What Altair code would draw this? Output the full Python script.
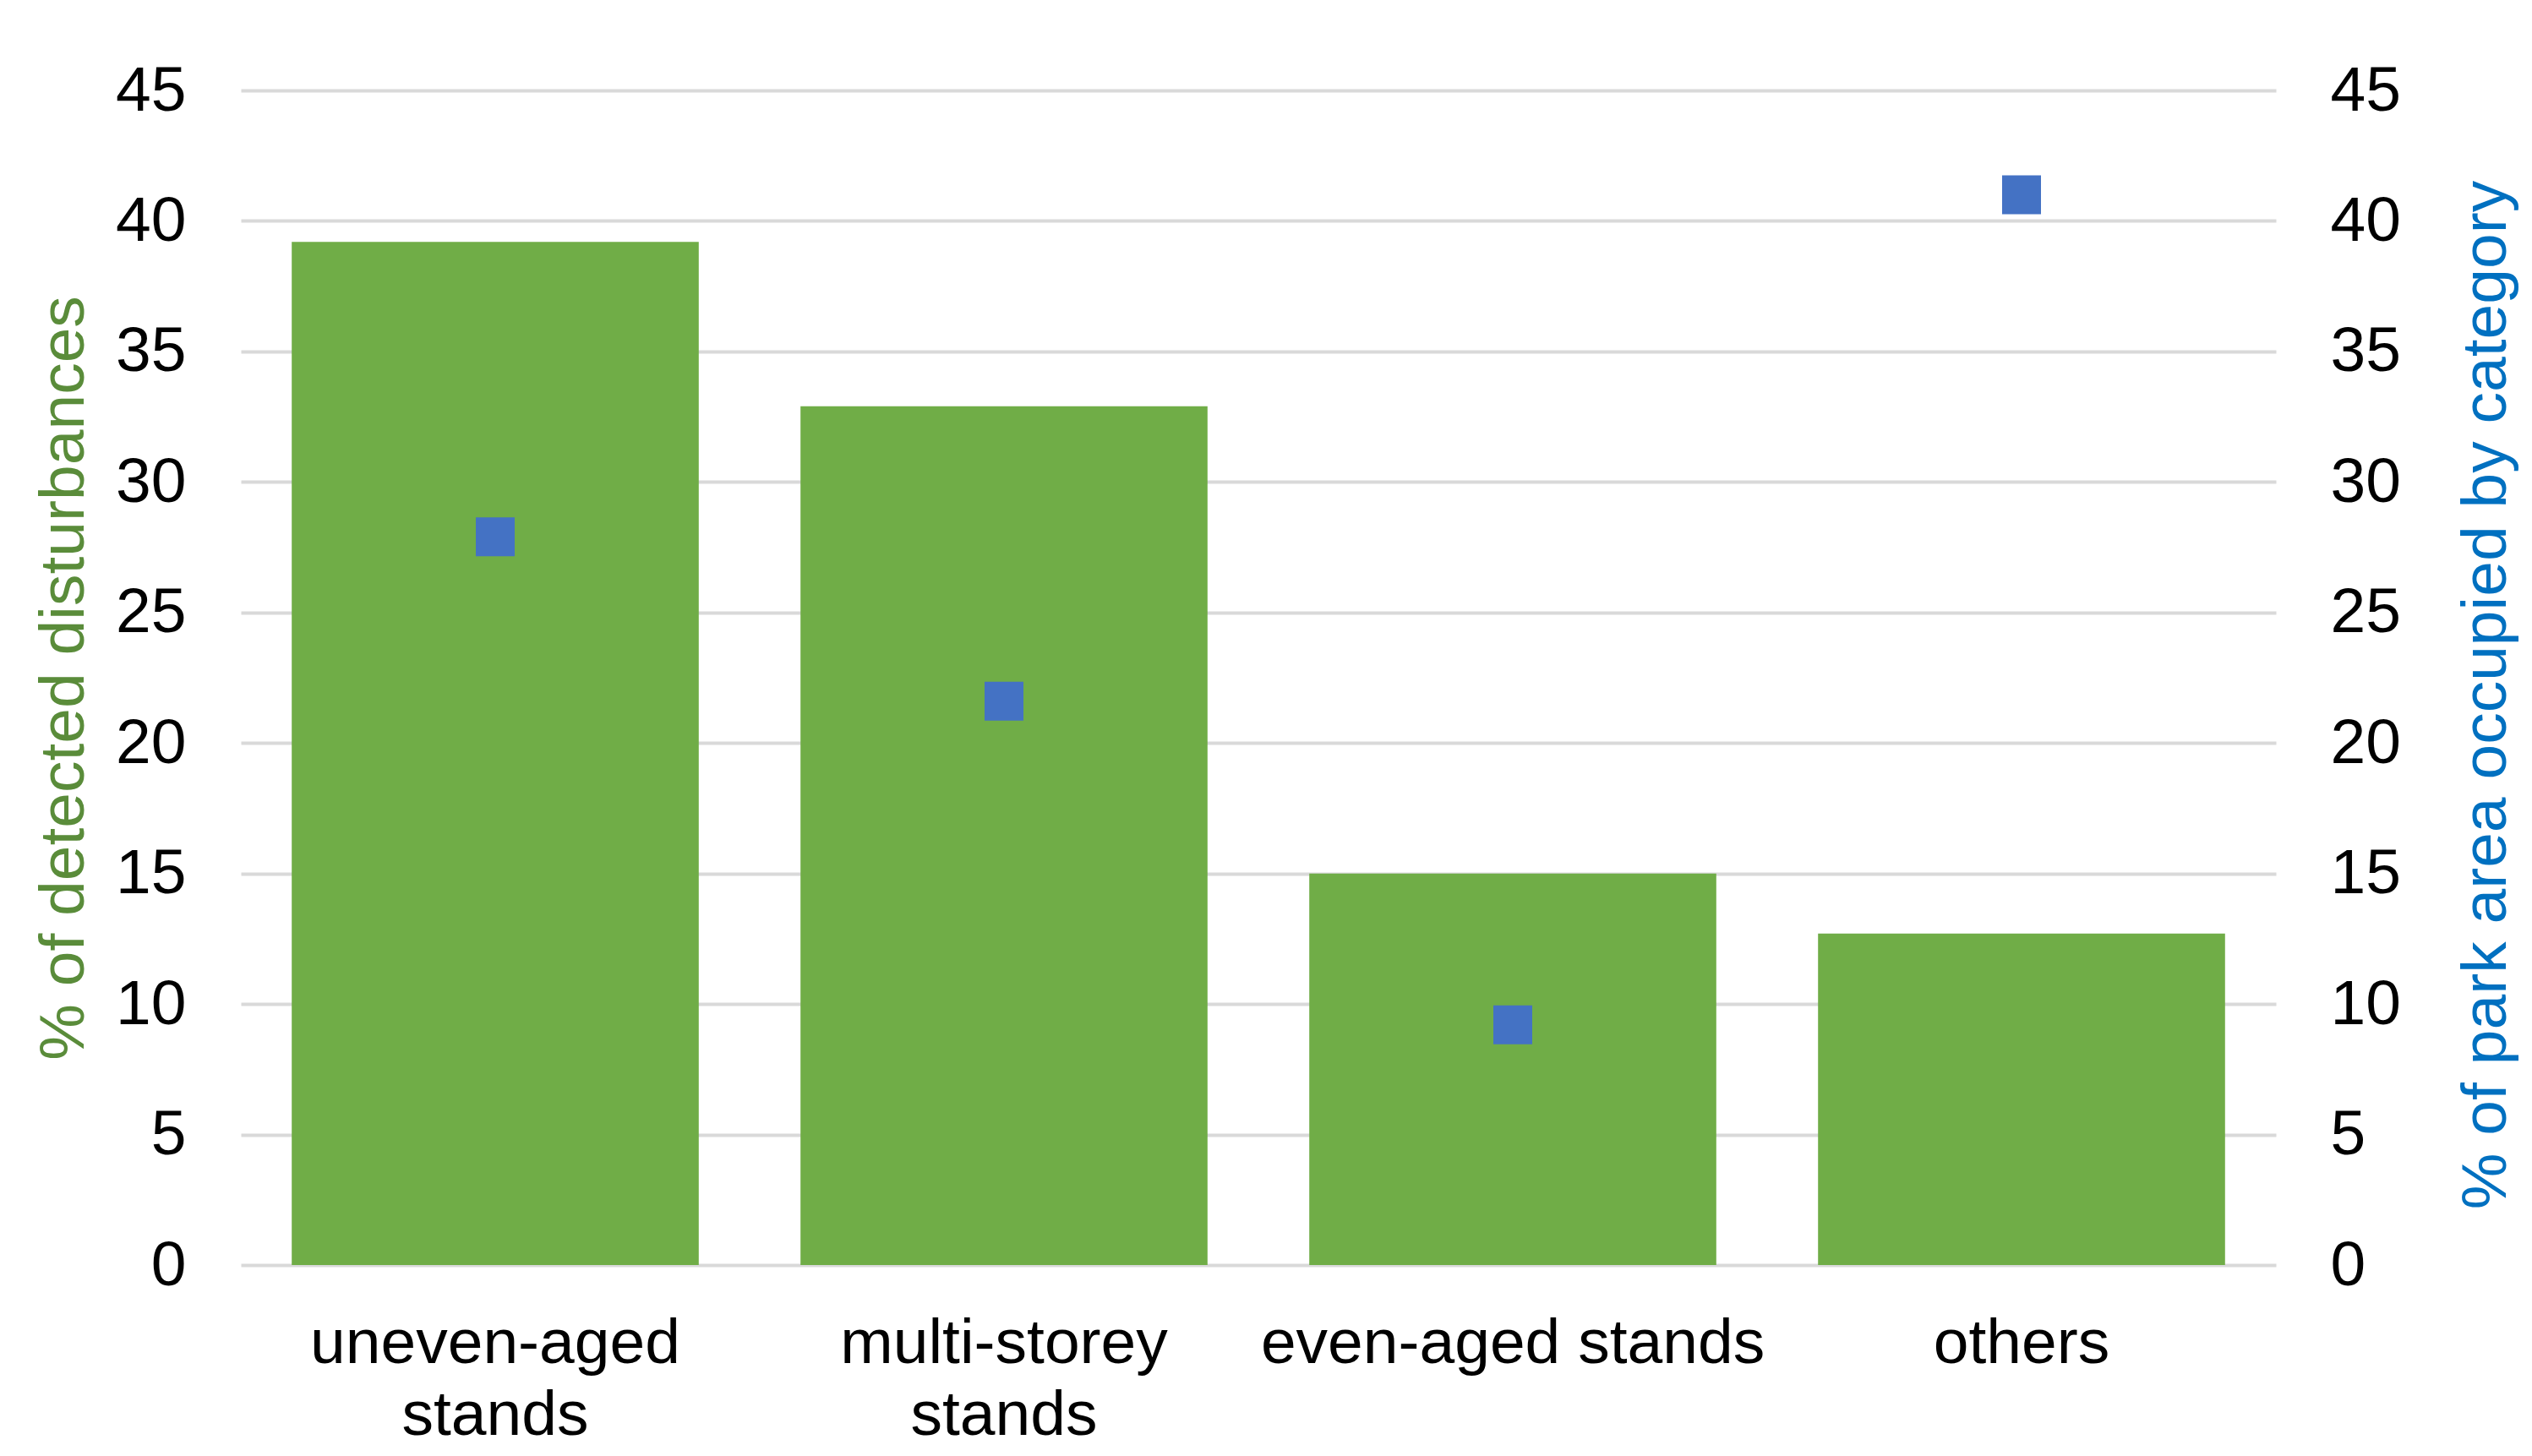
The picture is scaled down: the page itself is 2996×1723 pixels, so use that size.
import altair as alt
import pandas as pd

categories = ["uneven-aged stands", "multi-storey stands", "even-aged stands", "others"]
disturbances = [39.2, 32.9, 15.0, 12.7]
park_area = [27.9, 21.6, 9.2, 41.0]
tick_values = [0, 5, 10, 15, 20, 25, 30, 35, 40, 45]

df = pd.DataFrame({"category": categories, "disturb": disturbances, "area": park_area})

FONT = "Liberation Sans"
FS = 75

x_enc = alt.X(
    "category:N",
    sort=categories,
    scale=alt.Scale(paddingInner=0.2, paddingOuter=0.1),
    axis=alt.Axis(
        title=None, labelAngle=0, domain=False, ticks=False, grid=False,
        labelPadding=56, labelFontSize=FS, labelFont=FONT, labelColor="black",
        labelLineHeight=85, labelLimit=2000, labelOverlap=False,
        labelExpr="(datum.label == 'uneven-aged stands' || datum.label == 'multi-storey stands') ? split(datum.label, ' ') : datum.label",
    ),
)

bars = alt.Chart(df).mark_bar(color="#70AD47").encode(
    x=x_enc,
    y=alt.Y(
        "disturb:Q",
        scale=alt.Scale(domain=[0, 45], nice=False),
        axis=alt.Axis(
            orient="left", values=tick_values, title="% of detected disturbances",
            titleColor="#5A8C3A", titleFontSize=FS, titleFont=FONT, titleFontWeight="normal",
            titleX=-187, titleY=695, titleAngle=270, titleBaseline="alphabetic", titleAlign="center",
            grid=True, gridColor="#D9D9D9", gridWidth=4, domain=False, ticks=False,
            labelPadding=65, labelFontSize=FS, labelFont=FONT, labelColor="black",
        ),
    ),
)

squares = alt.Chart(df).mark_square(color="#4472C4", size=2116, opacity=1, filled=True).encode(
    x=x_enc,
    y=alt.Y(
        "area:Q",
        scale=alt.Scale(domain=[0, 45], nice=False),
        axis=alt.Axis(
            orient="right", values=tick_values, title="% of park area occupied by category",
            titleColor="#0070C0", titleFontSize=FS, titleFont=FONT, titleFontWeight="normal",
            titleX=271, titleY=715, titleAngle=270, titleBaseline="alphabetic", titleAlign="center",
            grid=False, domain=False, ticks=False,
            labelPadding=64, labelFontSize=FS, labelFont=FONT, labelColor="black",
        ),
    ),
)

chart = alt.layer(bars, squares).resolve_scale(y="independent").properties(
    width=2408,
    height=1390,
    autosize=alt.AutoSizeParams(type="none"),
    padding={"left": 277, "top": 99, "right": 290, "bottom": 216},
    background="white",
).configure_view(stroke=None)

chart.save("out.html", embed_options={"renderer": "svg", "actions": False})
